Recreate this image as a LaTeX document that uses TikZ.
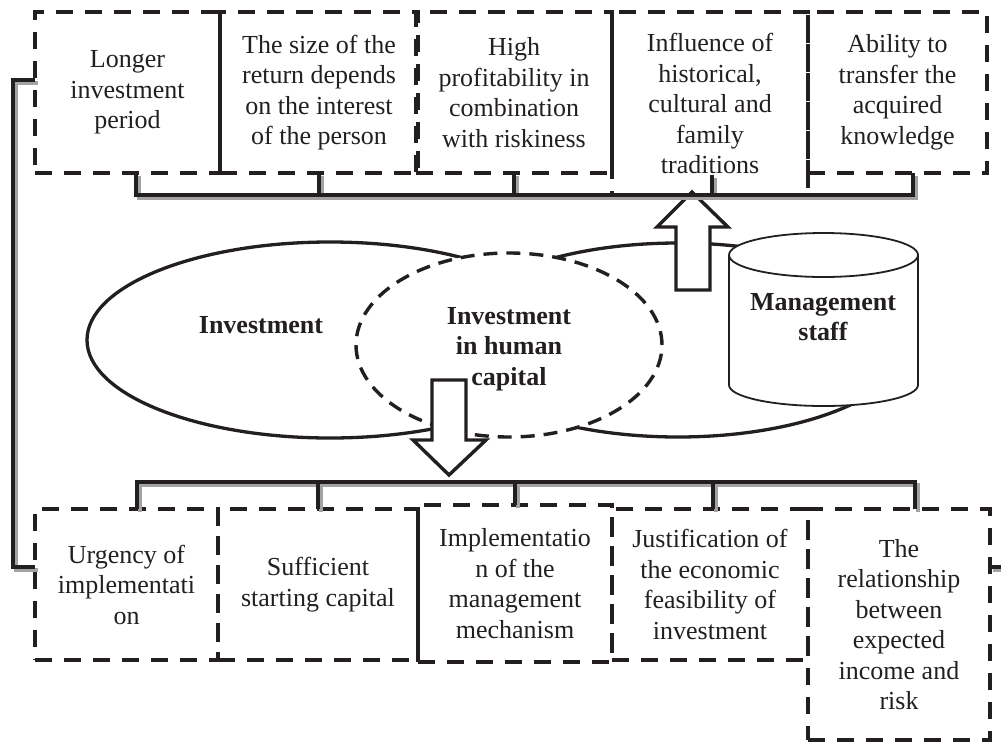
\documentclass[tikz,border=0pt]{standalone}
\usepackage{fontspec}
\setmainfont{Liberation Serif}
\usetikzlibrary{shapes.geometric,calc}
\definecolor{ink}{HTML}{231F20}
\definecolor{shade}{HTML}{A3A3A3}
\begin{document}
\begin{tikzpicture}[x=1pt,y=-1pt,
  every node/.style={font=\fontsize{26}{30.5}\selectfont, text=ink, align=center},
  dbox/.style={draw=ink, line width=3.6pt, dash pattern=on 17pt off 12pt, inner sep=2pt, outer sep=0pt},
  bus/.style={draw=ink, line width=3.8pt, preaction={draw=shade, line width=3.8pt, transform canvas={xshift=3pt,yshift=-3pt}}},
  sell/.style={ellipse, draw=ink, line width=3.3pt, fill=white, inner sep=0pt, outer sep=0pt},
  dell/.style={ellipse, draw=ink, line width=3.4pt, dash pattern=on 14pt off 9pt, fill=white, inner sep=0pt, outer sep=0pt},
  btext/.style={font=\fontsize{26}{30.5}\selectfont\bfseries},
  blockarrow/.style={draw=ink, fill=white, line width=3.4pt},
  cyl/.style={draw=ink, line width=1.8pt}
]
\useasboundingbox (0,0) rectangle (1001,742);

% ellipses
\node[sell, minimum width=464pt, minimum height=194pt] (rell) at (678,340) {};
\node[sell, minimum width=486pt, minimum height=196pt] (lell) at (330,340) {};
\node[dell, minimum width=306pt, minimum height=184pt] (hell) at (509,345) {};
\node[btext] (invt) at (261,325) {Investment};
\node[btext] (hct) at (509,349) {Investment\\in human\\capital};

% cylinder
\draw[cyl, fill=white] (729,255) -- (729,385) arc[start angle=180, end angle=360, x radius=94.5pt, y radius=21pt] -- (918,255) arc[start angle=0, end angle=180, x radius=94.5pt, y radius=22pt] -- cycle;
\draw[cyl] (729,255) arc[start angle=180, end angle=360, x radius=94.5pt, y radius=22pt];
\node[btext] (mst) at (823,317) {Management\\staff};

% block arrows
\draw[blockarrow] (692,192) -- (728,227) -- (710,227) -- (710,290) -- (676,290) -- (676,227) -- (657,227) -- cycle;
\draw[blockarrow] (449,475) -- (486,440) -- (466,440) -- (466,380) -- (432,380) -- (432,440) -- (413,440) -- cycle;

% top boxes
\node[dbox, minimum width=185pt, minimum height=161pt] (t1) at (127.5,92.5) {Longer\\investment\\period};
\node[dbox, minimum width=198pt, minimum height=161pt] (t2) at (319,92.5) {The size of the\\return depends\\on the interest\\of the person};
\node[dbox, minimum width=196pt, minimum height=161pt] (t3) at (514,92.5) {High\\profitability in\\combination\\with riskiness};
\node[dbox, minimum width=196pt, minimum height=183pt] (t4) at (710,103.5) {Influence of\\historical,\\cultural and\\family\\traditions};
\node[dbox, minimum width=179pt, minimum height=161pt] (t5) at (897.5,92.5) {Ability to\\transfer the\\acquired\\knowledge};

% bottom boxes
\node[dbox, minimum width=183pt, minimum height=151pt] (b1) at (126.5,584.5) {Urgency of\\implementati\\on};
\node[dbox, minimum width=200pt, minimum height=151pt] (b2) at (318,584.5) {Sufficient\\starting capital};
\node[dbox, minimum width=194pt, minimum height=157pt] (b3) at (515,583.5) {Implementatio\\n of the\\management\\mechanism};
\node[dbox, minimum width=196pt, minimum height=151pt] (b4) at (710,584.5) {Justification of\\the economic\\feasibility of\\investment};
\node[dbox, minimum width=182pt, minimum height=231pt] (b5) at (899,624.5) {The\\relationship\\between\\expected\\income and\\risk};

% bus lines
\coordinate (tbar) at (0,195);
\coordinate (bbar) at (0,482);
\coordinate (u1) at ([xshift=8.5pt]t1.south);
\coordinate (u5) at ([xshift=15.5pt]t5.south);
\coordinate (u4) at ([xshift=2pt]t4.south);
\coordinate (d1) at ([xshift=10.5pt]b1.north);
\coordinate (d4) at ([xshift=3pt]b4.north);
\coordinate (d5) at ([xshift=16pt]b5.north);

\draw[bus] (u1) -- (u1 |- tbar) -| (u5)
  (t2.south) -- (t2.south |- tbar)
  (t3.south) -- (t3.south |- tbar)
  (u4) -- ++(0,-20);
\draw[bus] (d1) -- (d1 |- bbar) -| (d5)
  (b2.north) -- (b2.north |- bbar)
  (b3.north) -- (b3.north |- bbar)
  (d4) -- (d4 |- bbar);
\draw[bus] ([yshift=12.5pt]t1.west) -- ++(-22,0) |- ([yshift=17.5pt]b1.west);
\draw[bus] ([yshift=57.5pt]b5.east) -- ++(14,0);
\end{tikzpicture}
\end{document}
